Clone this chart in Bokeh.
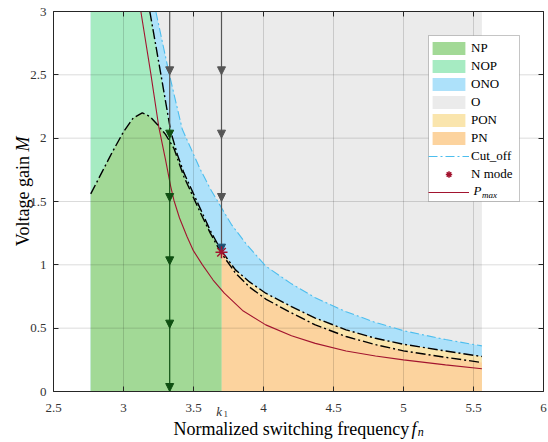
import math
import numpy as np
from bokeh.plotting import figure
from bokeh.models import (ColumnDataSource, FixedTicker, LinearAxis, Range1d, BoxAnnotation,
                          Legend, LegendItem, Label, LabelSet, Arrow, NormalHead)
from bokeh.embed import file_html
from bokeh.resources import INLINE

# ---------------- data ----------------
x_ticks = [2.5, 3, 3.5, 4, 4.5, 5, 5.5, 6]
x_tick_labels = ["2.5", "3", "3.5", "4", "4.5", "5", "5.5", "6"]
x_grid_ticks = [3, 3.5, 4, 4.5, 5, 5.5]
y_ticks = [0, 0.5, 1, 1.5, 2, 2.5, 3]
y_tick_labels = ["0", "0.5", "1", "1.5", "2", "2.5", "3"]
y_grid_ticks = [0.5, 1, 1.5, 2, 2.5]

fn_lo, fn_hi = 2.5, 6.0     # axis limits
M_lo, M_top = 0.0, 3.0

fn_min = 2.766     # left edge of the operating area
k1 = 3.70          # boundary frequency k1 (labelled k1 on the axis)
fn_max = 5.56      # right edge of the operating area

# cut-off curve
cut_fn = [3.231, 3.326, 3.42, 3.55, 3.62, 3.70, 3.77, 3.88, 4.016, 4.2, 4.37, 4.59, 4.8, 5.0, 5.3, 5.56]
cut_M = [3.00, 2.51, 2.07, 1.75, 1.60, 1.45, 1.32, 1.16, 0.99, 0.85, 0.74, 0.63, 0.545, 0.48, 0.41, 0.36]

# upper black boundary (lower edge of ONO)
hi_fn = [3.188, 3.266, 3.338, 3.385, 3.43, 3.55, 3.62, 3.70, 3.80, 3.90, 4.016, 4.2, 4.37, 4.59, 4.8, 5.0, 5.3, 5.56]
hi_M = [3.00, 2.51, 2.05, 1.87, 1.73, 1.44, 1.27, 1.11, 0.96, 0.865, 0.776, 0.67, 0.58, 0.487, 0.42, 0.373, 0.32, 0.276]

# lower black boundary (top of NP / PN)
lo_fn = [2.766, 2.85, 2.92, 3.0, 3.07, 3.134, 3.19, 3.24, 3.30, 3.36, 3.43, 3.55, 3.62, 3.70,
         3.80, 3.90, 4.016, 4.2, 4.37, 4.59, 4.8, 5.0, 5.3, 5.56]
lo_M = [1.56, 1.74, 1.89, 2.05, 2.16, 2.20, 2.17, 2.11, 2.03, 1.92, 1.70, 1.41, 1.25, 1.09,
        0.935, 0.825, 0.73, 0.62, 0.526, 0.434, 0.37, 0.321, 0.27, 0.229]

# P_max curve
pmax_fn = [3.124, 3.195, 3.252, 3.30, 3.337, 3.36, 3.40, 3.455, 3.50, 3.564, 3.64, 3.72, 3.85,
           4.016, 4.2, 4.37, 4.59, 4.8, 5.0, 5.3, 5.56]
pmax_M = [3.00, 2.51, 2.09, 1.83, 1.62, 1.51, 1.37, 1.22, 1.11, 1.00, 0.88, 0.776, 0.64,
          0.526, 0.44, 0.38, 0.32, 0.28, 0.25, 0.21, 0.18]

# N mode point
nmode_fn = [3.70]
nmode_M = [1.10]

# trajectories (vertical arrow lines)
traj1_fn = 3.33
traj1_tips = [2.5, 2.0, 1.5, 1.0, 0.5, 0.0]
traj1_switch = 2.08          # colour change from grey to green
traj2_fn = 3.70
traj2_tips = [2.5, 2.0, 1.5, 1.10]

# ---------------- colours ----------------
C_NP = "#A2D996"
C_NOP = "#A6EBC2"
C_ONO = "#ADE1FA"
C_O = "#EBEBEB"
C_PON = "#FAE5AD"
C_PN = "#FCD39E"
C_CUT = "#4DBEEE"
C_RED = "#A2142F"
C_GREY = "#555555"
C_GREEN = "#0F4F12"
C_NAVY = "#1B4F72"
C_AX = "#262626"
C_TICK = "#333333"
FONT = "Liberation Serif"

# ---------------- layout: the frame fills the canvas, axes are fixed in it ----------------
W, H = 548, 442
BOX_L, BOX_R, BOX_T, BOX_B = 53, 543, 11, 391          # pixel box of the axes
sx = (BOX_R - BOX_L) / (fn_hi - fn_lo)
sy = (BOX_B - BOX_T) / (M_top - M_lo)
x_range = Range1d(fn_lo - BOX_L / sx, fn_hi + (W - BOX_R) / sx)
y_range = Range1d(M_lo - (H - BOX_B) / sy, M_top + BOX_T / sy)

def X(px):   # pixel column -> data x
    return fn_lo + (px - BOX_L) / sx

def Y(py):   # pixel row -> data y
    return M_top - (py - BOX_T) / sy

p = figure(width=W, height=H, x_range=x_range, y_range=y_range,
           x_axis_type=None, y_axis_type=None,
           output_backend="svg", toolbar_location=None,
           min_border_left=0, min_border_right=0, min_border_top=0, min_border_bottom=0)
p.outline_line_color = None
p.background_fill_color = "white"
p.border_fill_color = "white"

cut_fn_a, cut_M_a = np.array(cut_fn), np.array(cut_M)
hi_fn_a, hi_M_a = np.array(hi_fn), np.array(hi_M)
lo_fn_a, lo_M_a = np.array(lo_fn), np.array(lo_M)

r_O = p.quad(left=[fn_min], right=[fn_max], bottom=[M_lo], top=[M_top], fill_color=C_O, line_color=None)

ono_x = np.concatenate([[fn_min], cut_fn_a, [fn_max, fn_min]])
ono_y = np.concatenate([[M_top], cut_M_a, [M_lo, M_lo]])
r_ONO = p.patch(ono_x, ono_y, fill_color=C_ONO, line_color=None)

m = hi_fn_a <= k1
nop_x = np.concatenate([[fn_min], hi_fn_a[m], [k1, fn_min]])
nop_y = np.concatenate([[M_top], hi_M_a[m], [M_lo, M_lo]])
r_NOP = p.patch(nop_x, nop_y, fill_color=C_NOP, line_color=None)

m = hi_fn_a >= k1
pon_x = np.concatenate([hi_fn_a[m], [fn_max, k1]])
pon_y = np.concatenate([hi_M_a[m], [M_lo, M_lo]])
r_PON = p.patch(pon_x, pon_y, fill_color=C_PON, line_color=None)

m = lo_fn_a >= k1
pn_x = np.concatenate([lo_fn_a[m], [fn_max, k1]])
pn_y = np.concatenate([lo_M_a[m], [M_lo, M_lo]])
r_PN = p.patch(pn_x, pn_y, fill_color=C_PN, line_color=None)

m = lo_fn_a <= k1
np_x = np.concatenate([lo_fn_a[m], [k1, fn_min]])
np_y = np.concatenate([lo_M_a[m], [M_lo, M_lo]])
r_NP = p.patch(np_x, np_y, fill_color=C_NP, line_color=None)

# grid (limited to the axes box)
p.segment(x0=x_grid_ticks, y0=[M_lo] * len(x_grid_ticks), x1=x_grid_ticks, y1=[M_top] * len(x_grid_ticks),
          line_color="black", line_alpha=0.14, line_width=1)
p.segment(x0=[fn_lo] * len(y_grid_ticks), y0=y_grid_ticks, x1=[fn_hi] * len(y_grid_ticks), y1=y_grid_ticks,
          line_color="black", line_alpha=0.14, line_width=1)

# curves
r_pmax = p.line(pmax_fn, pmax_M, line_color=C_RED, line_width=1.1)
p.line(lo_fn, lo_M, line_color="black", line_width=1.4, line_dash="10 3 2 3")
p.line(hi_fn, hi_M, line_color="black", line_width=1.4, line_dash="10 3 2 3")
r_cut = p.line(cut_fn, cut_M, line_color=C_CUT, line_width=1.1, line_dash="9 3 2 3")

# trajectory shafts
p.segment(x0=[traj1_fn, traj2_fn], y0=[M_top, M_top], x1=[traj1_fn, traj2_fn],
          y1=[traj1_switch, traj2_tips[-1]], line_color=C_GREY, line_width=1.2)
p.segment(x0=[traj1_fn], y0=[traj1_switch], x1=[traj1_fn], y1=[traj1_tips[-1]],
          line_color=C_GREEN, line_width=1.2)

def heads(xs, tips, color):
    src = ColumnDataSource(dict(x0=xs, y0=[t + 0.03 for t in tips], x1=xs, y1=tips))
    p.add_layout(Arrow(end=NormalHead(size=8, fill_color=color, line_color=color, line_width=1),
                       x_start="x0", y_start="y0", x_end="x1", y_end="y1",
                       line_alpha=0, source=src))

t1_grey = [t for t in traj1_tips if t > traj1_switch]
t1_green = [t for t in traj1_tips if t <= traj1_switch]
heads([traj1_fn] * len(t1_grey), t1_grey, C_GREY)
heads([traj1_fn] * len(t1_green), t1_green, C_GREEN)
heads([traj2_fn] * (len(traj2_tips) - 1), traj2_tips[:-1], C_GREY)
heads([traj2_fn], traj2_tips[-1:], C_NAVY)

r_star = p.scatter(nmode_fn, nmode_M, marker="asterisk", size=12, line_color=C_RED, line_width=1.5)
r_star.level = "overlay"

# ---------------- axes (fixed in the frame: box on four sides) ----------------
def make_axis(loc, fixed, ticks, bounds):
    ax = LinearAxis(fixed_location=fixed, bounds=bounds, ticker=FixedTicker(ticks=ticks),
                    major_tick_in=5, major_tick_out=0, minor_tick_line_color=None,
                    axis_line_color=C_AX, major_tick_line_color=C_AX,
                    major_label_text_alpha=0, major_label_text_font_size="1px")
    p.add_layout(ax, loc)
    return ax

make_axis("below", M_lo, x_ticks, (fn_lo, fn_hi))
make_axis("left", fn_lo, y_ticks, (M_lo, M_top))
make_axis("above", M_top, x_ticks, (fn_lo, fn_hi))
make_axis("right", fn_hi, y_ticks, (M_lo, M_top))

# tick labels (serif, as in the reference)
xt_src = ColumnDataSource(dict(x=x_ticks, y=[M_lo] * len(x_ticks), t=x_tick_labels))
p.add_layout(LabelSet(x="x", y="y", text="t", source=xt_src, y_offset=-12,
                      text_font=FONT, text_font_size="13px", text_color=C_TICK,
                      text_align="center", text_baseline="top"))
yt_src = ColumnDataSource(dict(x=[fn_lo] * len(y_ticks), y=y_ticks, t=y_tick_labels))
p.add_layout(LabelSet(x="x", y="y", text="t", source=yt_src, x_offset=-7,
                      text_font=FONT, text_font_size="13px", text_color=C_TICK,
                      text_align="right", text_baseline="middle"))

# k1 tick label
p.add_layout(Label(x=k1, y=M_lo, y_offset=-12, text="k", x_offset=0.5,
                   text_font=FONT, text_font_style="italic", text_font_size="13px",
                   text_align="right", text_baseline="top", text_color=C_TICK))
p.add_layout(Label(x=k1, y=M_lo, y_offset=-19, text="1", x_offset=2,
                   text_font=FONT, text_font_size="9px",
                   text_align="left", text_baseline="top", text_color=C_TICK))

# axis titles
p.add_layout(Label(x=X(408.8), y=Y(428.5), text="Normalized switching frequency",
                   text_font=FONT, text_font_size="18px",
                   text_align="right", text_baseline="alphabetic", text_color="black"))
p.add_layout(Label(x=X(411), y=Y(428.5), text="f",
                   text_font=FONT, text_font_style="italic", text_font_size="18px",
                   text_align="left", text_baseline="alphabetic", text_color="black"))
p.add_layout(Label(x=X(417.3), y=Y(431.5), text="n",
                   text_font=FONT, text_font_style="italic", text_font_size="12px",
                   text_align="left", text_baseline="alphabetic", text_color="black"))
p.add_layout(Label(x=X(22), y=Y(155.5), angle=math.pi / 2, text="Voltage gain",
                   text_font=FONT, text_font_size="18px",
                   text_align="right", text_baseline="alphabetic", text_color="black"))
p.add_layout(Label(x=X(22), y=Y(151), angle=math.pi / 2, text="M",
                   text_font=FONT, text_font_style="italic", text_font_size="18px",
                   text_align="left", text_baseline="alphabetic", text_color="black"))

# ---------------- legend ----------------
LEG_L, LEG_R, LEG_T, LEG_B = 428, 519, 35, 201
p.add_layout(BoxAnnotation(left=X(LEG_L), right=X(LEG_R), top=Y(LEG_T), bottom=Y(LEG_B),
                           fill_color="white", fill_alpha=1, line_color="#404040", line_width=1))
legend = Legend(items=[
    LegendItem(label="NP", renderers=[r_NP]),
    LegendItem(label="NOP", renderers=[r_NOP]),
    LegendItem(label="ONO", renderers=[r_ONO]),
    LegendItem(label="O", renderers=[r_O]),
    LegendItem(label="PON", renderers=[r_PON]),
    LegendItem(label="PN", renderers=[r_PN]),
    LegendItem(label="Cut_off", renderers=[r_cut]),
    LegendItem(label="N mode", renderers=[r_star]),
    LegendItem(label=" ", renderers=[r_pmax]),
], location=(LEG_L, H - LEG_B), margin=0, padding=2, spacing=0,
    glyph_width=41, glyph_height=16, label_height=18, label_width=44, label_standoff=2,
    label_text_font=FONT, label_text_font_size="13px", label_text_color="black",
    border_line_color=None, background_fill_alpha=0)
p.add_layout(legend)

p.add_layout(Label(x=X(473), y=Y(190), text="P",
                   text_font=FONT, text_font_style="italic", text_font_size="13px",
                   text_align="left", text_baseline="middle", text_color="black"))
p.add_layout(Label(x=X(481.5), y=Y(194), text="max",
                   text_font=FONT, text_font_style="italic", text_font_size="9px",
                   text_align="left", text_baseline="middle", text_color="black"))

open("out.html", "w").write(file_html(p, INLINE))
